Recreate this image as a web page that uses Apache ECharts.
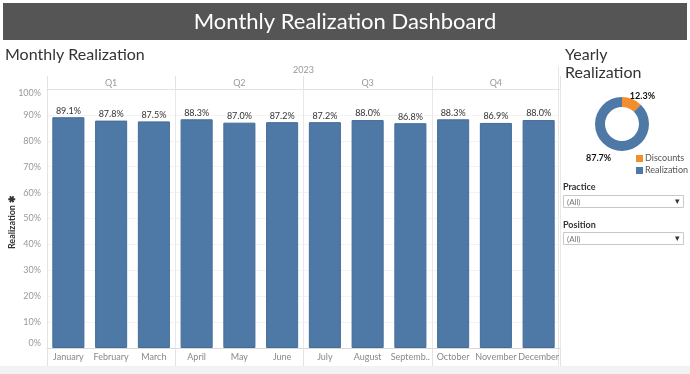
<!DOCTYPE html>
<html><head><meta charset="utf-8">
<script src="https://cdn.jsdelivr.net/npm/echarts@6/dist/echarts.min.js"></script>
<style>html,body{margin:0;padding:0;background:#fff}#c{width:690px;height:374px}</style>
</head><body><div id="c"></div>
<script>
const months = ['January','February','March','April','May','June','July','August','September','October','November','December'];
const monthLabels = ['January','February','March','April','May','June','July','August','Septemb..','October','November','December'];
const quarters = ['Q1','Q2','Q3','Q4'];
const year = '2023';
const realization = [89.1,87.8,87.5,88.3,87.0,87.2,87.2,88.0,86.8,88.3,86.9,88.0];
const yearlyNames = ['Discounts','Realization'];
const yearlyValues = [12.3,87.7];

const FONT = 'Lato, "Open Sans", sans-serif';
const chart = echarts.init(document.getElementById('c'));
chart.setOption({
  backgroundColor:'#fff',
  animation:false,
  textStyle:{fontFamily:FONT},
  graphic:[
    {type:'rect',shape:{x:0,y:366,width:690,height:8},style:{fill:'#f2f2f2'},silent:true},
    {type:'rect',shape:{x:3,y:3,width:684,height:37},style:{fill:'#555555'}},
    {type:'text',x:345,y:22,style:{text:'Monthly Realization Dashboard',fill:'#fff',font:'22px '+FONT,textAlign:'center',textVerticalAlign:'middle'}},
    {type:'text',x:5,y:55,style:{text:'Monthly Realization',fill:'#333',font:'16px '+FONT,textVerticalAlign:'middle'}},
    {type:'text',x:565,y:55,style:{text:'Yearly',fill:'#333',font:'16px '+FONT,textVerticalAlign:'middle'}},
    {type:'text',x:565,y:73,style:{text:'Realization',fill:'#333',font:'16px '+FONT,textVerticalAlign:'middle'}},
    {type:'line',shape:{x1:558.5,y1:66,x2:558.5,y2:366},style:{stroke:'#e6e6e6',lineWidth:1}},
    {type:'text',x:12,y:222,rotation:Math.PI/2,style:{text:'Realization ✱',fill:'#333',font:'bold 9px '+FONT,textAlign:'center',textVerticalAlign:'middle'}},
    {type:'text',x:563,y:187,style:{text:'Practice',fill:'#333',font:'bold 9px '+FONT,textVerticalAlign:'middle'}},
    {type:'rect',shape:{x:563.5,y:195.5,width:120,height:12},style:{fill:'#fff',stroke:'#c8c8c8',lineWidth:1}},
    {type:'text',x:567,y:202,style:{text:'(All)',fill:'#777',font:'8px '+FONT,textVerticalAlign:'middle'}},
    {type:'text',x:677,y:202,style:{text:'▾',fill:'#333',font:'9px sans-serif',textAlign:'center',textVerticalAlign:'middle'}},
    {type:'text',x:563,y:225,style:{text:'Position',fill:'#333',font:'bold 9px '+FONT,textVerticalAlign:'middle'}},
    {type:'rect',shape:{x:563.5,y:232.5,width:120,height:12},style:{fill:'#fff',stroke:'#c8c8c8',lineWidth:1}},
    {type:'text',x:567,y:239,style:{text:'(All)',fill:'#777',font:'8px '+FONT,textVerticalAlign:'middle'}},
    {type:'text',x:677,y:239,style:{text:'▾',fill:'#333',font:'9px sans-serif',textAlign:'center',textVerticalAlign:'middle'}}
  ],
  grid:{left:47,right:130,top:89,bottom:26,containLabel:false},
  xAxis:[
    {type:'category',data:months,position:'bottom',
     axisLine:{show:true,lineStyle:{color:'#d9d9d9'}},axisTick:{show:false},
     axisLabel:{color:'#888',fontSize:9,margin:5,interval:0,formatter:(v,i)=>monthLabels[i]}},
    {type:'category',data:quarters,position:'top',name:year,nameLocation:'middle',nameGap:9,
     nameTextStyle:{color:'#999',fontSize:9},
     axisLine:{show:true,lineStyle:{color:'#e3e3e3'}},
     axisTick:{show:true,length:13,lineStyle:{color:'#e3e3e3'}},
     axisLabel:{color:'#999',fontSize:9,margin:1},
     splitLine:{show:true,lineStyle:{color:'#e8e8e8'}}},
    {type:'category',data:quarters,position:'bottom',
     axisLine:{show:false},axisTick:{show:true,length:18,lineStyle:{color:'#e3e3e3'}},
     axisLabel:{show:false}}
  ],
  yAxis:{type:'value',min:0,max:100,interval:10,
    axisLine:{show:true,lineStyle:{color:'#e3e3e3'}},axisTick:{show:false},
    axisLabel:{color:'#999',fontSize:9,margin:6,formatter:'{value}%',verticalAlignMinLabel:'bottom',verticalAlignMaxLabel:'top'},
    splitLine:{show:true,lineStyle:{color:'#f3f3f3'}}},
  legend:{data:yearlyNames,orient:'vertical',left:631,top:149,itemWidth:7,itemHeight:7,itemGap:3,icon:'rect',
    textStyle:{color:'#555',fontSize:9,padding:[0,0,0,-3]}},
  series:[
    {type:'bar',xAxisIndex:0,data:realization,barCategoryGap:'25%',
     itemStyle:{color:'#4e79a7',borderColor:'#456c97',borderWidth:1},
     label:{show:true,position:'top',distance:2,color:'#333',fontSize:9,formatter:p=>p.value.toFixed(1)+'%'}},
    {type:'pie',center:[622,124],radius:[17,27],startAngle:90,clockwise:true,
     data:yearlyNames.map((n,i)=>({name:n,value:yearlyValues[i],
       label:i===0?{position:'inside',offset:[11,-5]}:{position:'inside',offset:[-14,11]}})),
     color:['#f28e2b','#4e79a7'],
     itemStyle:{borderColor:'#fff',borderWidth:0},
     label:{show:true,color:'#111',fontSize:9,fontWeight:'bold',formatter:p=>p.value.toFixed(1)+'%'},
     labelLine:{show:false},silent:true}
  ]
});
</script></body></html>
